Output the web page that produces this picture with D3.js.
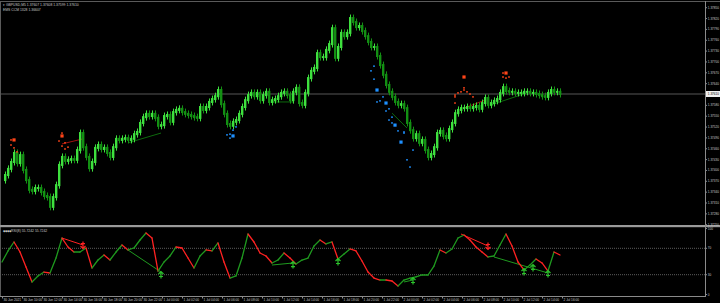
<!DOCTYPE html>
<html>
<head>
<meta charset="utf-8">
<script src="https://cdn.jsdelivr.net/npm/d3@7"></script>
<style>
  body { margin: 0; background: #000; overflow: hidden; }
  svg { display: block; font-family: "Liberation Sans", Arial, sans-serif; }
</style>
</head>
<body>
<svg id="chart" width="720" height="303"></svg>
<script>
// close of every bar
const closes = [
  1.37372,1.37386,1.37403,1.37422,1.37447,1.37419,1.37441,1.37400,1.37372,1.37345,
  1.37342,1.37350,1.37350,1.37339,1.37328,1.37325,1.37298,1.37325,1.37358,1.37414,
  1.37436,1.37425,1.37428,1.37430,1.37428,1.37455,1.37502,1.37463,1.37436,1.37405,
  1.37422,1.37461,1.37469,1.37458,1.37461,1.37447,1.37436,1.37463,1.37486,1.37483,
  1.37486,1.37488,1.37483,1.37486,1.37499,1.37505,1.37530,1.37546,1.37555,1.37549,
  1.37555,1.37544,1.37522,1.37524,1.37549,1.37552,1.37533,1.37560,1.37566,1.37569,
  1.37560,1.37555,1.37552,1.37549,1.37546,1.37544,1.37574,1.37566,1.37574,1.37588,
  1.37596,1.37604,1.37621,1.37582,1.37555,1.37527,1.37522,1.37533,1.37538,1.37555,
  1.37574,1.37593,1.37607,1.37613,1.37604,1.37613,1.37593,1.37607,1.37616,1.37588,
  1.37593,1.37596,1.37604,1.37613,1.37616,1.37607,1.37593,1.37616,1.37627,1.37585,
  1.37580,1.37613,1.37654,1.37674,1.37682,1.37723,1.37712,1.37712,1.37732,1.37748,
  1.37792,1.37710,1.37740,1.37779,1.37770,1.37779,1.37820,1.37809,1.37795,1.37798,
  1.37784,1.37770,1.37754,1.37740,1.37740,1.37715,1.37690,1.37663,1.37635,1.37616,
  1.37602,1.37588,1.37580,1.37582,1.37571,1.37530,1.37510,1.37488,1.37499,1.37475,
  1.37483,1.37455,1.37436,1.37444,1.37463,1.37502,1.37508,1.37494,1.37488,1.37513,
  1.37530,1.37557,1.37566,1.37571,1.37571,1.37574,1.37571,1.37574,1.37577,1.37569,
  1.37585,1.37599,1.37580,1.37585,1.37591,1.37596,1.37613,1.37629,1.37618,1.37616,
  1.37616,1.37613,1.37613,1.37613,1.37616,1.37616,1.37613,1.37613,1.37610,1.37607,
  1.37604,1.37602,1.37613,1.37621,1.37616,1.37616,1.37610
];

// signal dots on the price chart: [bar, price, size]
const redDots = [
  [4,1.37483,2],[3,1.37483,1],[3,1.37469,1],[4,1.37461,1],[5,1.37450,1],
  [20,1.37502,1],[20,1.37494,2],[19,1.37480,1],[21,1.37475,1],[22,1.37463,1],[21,1.37458,1],[20,1.37466,1],
  [154,1.37657,2],[154,1.37627,1],[154,1.37621,1],[153,1.37616,1],[152,1.37613,1],[151,1.37607,1],
  [151,1.37602,1],[155,1.37616,1],[156,1.37610,1],[157,1.37602,1],[151,1.37585,1],
  [167,1.37668,1],[168,1.37668,2],[167,1.37657,1],[168,1.37654,1],[169,1.37657,1]
];
const blueDots = [
  [75,1.37497,1],[76,1.37499,1],[77,1.37494,2],[76,1.37488,1],[77,1.37510,1],[78,1.37519,1],
  [124,1.37687,1],[123,1.37674,1],[124,1.37651,1],[125,1.37621,2],[125,1.37588,1],[126,1.37591,1],
  [127,1.37602,1],[128,1.37585,2],[128,1.37563,1],[129,1.37569,1],[130,1.37546,1],[129,1.37538,1],
  [130,1.37530,1],[131,1.37524,2],[132,1.37508,1],[134,1.37505,1],[134,1.37502,1],[133,1.37477,2],
  [137,1.37455,1],[135,1.37428,1],[136,1.37408,1]
];
// divergence lines on price: [type, bar1, price1, bar2, price2]
const priceLines = [
  ["dn",20,1.37472,27,1.37486],
  ["up",42,1.37475,53,1.37502],
  ["up",90,1.37588,97,1.37588],
  ["up",130,1.37557,135,1.37516],
  ["dn",154,1.37571,161,1.37593],
  ["up",163,1.37580,175,1.37613]
];

// oscillator, one value every 2nd bar
const oscVals = [
  48.5,65.2,78.8,63.6,40.9,18.2,27.3,33.3,31.8,54.5,
  84.8,71.2,63.6,63.6,69.7,39.4,51.5,59.1,51.5,63.6,
  74.2,66.7,69.7,81.8,92.4,84.8,34.8,48.5,57.6,71.2,
  69.7,54.5,39.4,57.6,66.7,65.2,77.3,48.5,24.2,27.3,
  54.5,90.9,78.8,62.1,57.6,47.0,51.5,62.1,54.5,45.5,
  51.5,54.5,72.7,81.8,75.8,78.8,53.0,60.6,68.2,65.2,
  50.0,33.3,24.2,21.2,21.2,19.7,12.1,21.2,24.2,25.8,
  28.8,28.8,42.4,66.7,62.1,68.2,84.8,89.4,81.8,71.2,
  63.6,56.1,57.6,74.2,90.9,72.7,48.5,36.4,43.9,53.0,
  47.0,34.8,63.6,59.1
];
const oscUpArrows = [[53,28.8],[97,43.9],[112,48.5],[137,19.7],[174,33.3],[177,39.4],[182,30.3]];
const oscDnArrows = [[27,74.2],[162,72.7]];
const oscLines = [
  ["dn",20,84.8,27,74.2],
  ["up",42,66.7,53,33.3],
  ["up",90,43.9,97,47.0],
  ["up",134,18.2,137,21.2],
  ["dn",153,90.9,162,72.7],
  ["up",164,56.1,182,31.8]
];
const oscLevels = [70, 30];
const oscTicks = [100, 70, 30, 0];

const priceTicks = [1.37850,1.37820,1.37790,1.37760,1.37730,1.37700,1.37670,1.37640,1.37610,1.37580,
  1.37550,1.37520,1.37490,1.37460,1.37430,1.37400,1.37370,1.37340,1.37310,1.37280,1.37250];
const timeLabels = ["30 Jun 2021","30 Jun 10:00","30 Jun 12:00","30 Jun 14:00","30 Jun 16:00","30 Jun 18:00",
  "30 Jun 20:00","30 Jun 22:00","1 Jul 00:00","1 Jul 02:00","1 Jul 04:00","1 Jul 06:00","1 Jul 08:00",
  "1 Jul 10:00","1 Jul 12:00","1 Jul 14:00","1 Jul 16:00","1 Jul 18:00","1 Jul 20:00","1 Jul 22:00",
  "2 Jul 00:00","2 Jul 02:00","2 Jul 04:00","2 Jul 06:00","2 Jul 08:00","2 Jul 10:00","2 Jul 12:00",
  "2 Jul 14:00","2 Jul 16:00"];

const UP = "#3ee03e", DOWN = "#139013", RED = "#ff2222", GRID = "#8a8a8a", TXT = "#c8c8c8";

const svg = d3.select("#chart");
svg.append("rect").attr("width", 720).attr("height", 303).attr("fill", "#000");

const x = d3.scaleLinear().domain([0, closes.length - 1]).range([2, 560]);
const y = d3.scaleLinear().domain([1.37250, 1.37850]).range([224.2, 7.2]);
const yO = d3.scaleLinear().domain([0, 100]).range([294, 228]);
const xT = d3.scaleLinear().domain([0, timeLabels.length - 1]).range([2, 562]);

const defs = svg.append("defs");
defs.append("clipPath").attr("id", "clipMain").append("rect").attr("x", 1).attr("y", 3).attr("width", 704).attr("height", 222);
defs.append("clipPath").attr("id", "clipOsc").append("rect").attr("x", 1).attr("y", 228).attr("width", 704).attr("height", 67);

// frame
svg.append("line").attr("x1", 0).attr("x2", 720).attr("y1", 1.5).attr("y2", 1.5).attr("stroke", "#5a5a5a");
svg.append("line").attr("x1", 0.5).attr("x2", 0.5).attr("y1", 1).attr("y2", 297).attr("stroke", "#5a5a5a");
svg.append("rect").attr("x", 0).attr("y", 225).attr("width", 720).attr("height", 2.2).attr("fill", "#9a9a9a");

const main = svg.append("g").attr("clip-path", "url(#clipMain)");

// current price line
const last = closes[closes.length - 1];
main.append("line").attr("x1", 0).attr("x2", 705).attr("y1", y(last)).attr("y2", y(last))
  .attr("stroke", "#3a3a3a").attr("stroke-width", 1.5);

// divergence lines
main.selectAll(".pline").data(priceLines).enter().append("line")
  .attr("x1", d => x(d[1])).attr("y1", d => y(d[2]))
  .attr("x2", d => x(d[3])).attr("y2", d => y(d[4]))
  .attr("stroke", d => d[0] === "up" ? "#0d6a0d" : "#a01010").attr("stroke-width", 1);

// bars
const bars = closes.slice(1).map((c, k) => ({ i: k + 1, o: closes[k], c: c }));
main.selectAll(".wick").data(bars).enter().append("line")
  .attr("x1", d => x(d.i) + 0.5).attr("x2", d => x(d.i) + 0.5)
  .attr("y1", d => y(Math.max(d.o, d.c)) - 3.5)
  .attr("y2", d => y(Math.min(d.o, d.c)) + 3.5)
  .attr("stroke", d => d.c >= d.o ? UP : DOWN).attr("stroke-width", 1);
main.selectAll(".body").data(bars).enter().append("rect")
  .attr("x", d => x(d.i) - 1).attr("width", 2.4)
  .attr("y", d => y(Math.max(d.o, d.c)) - 1)
  .attr("height", d => Math.max(2, Math.abs(y(d.o) - y(d.c)) + 2))
  .attr("fill", d => d.c >= d.o ? UP : DOWN);

// dots
main.selectAll(".rdot").data(redDots).enter().append("rect")
  .attr("x", d => x(d[0]) - d[2] * 0.8).attr("y", d => y(d[1]) - d[2] * 0.8)
  .attr("width", d => d[2] * 1.6).attr("height", d => d[2] * 1.6).attr("fill", "#ff4418");
main.selectAll(".bdot").data(blueDots).enter().append("rect")
  .attr("x", d => x(d[0]) - d[2] * 0.8).attr("y", d => y(d[1]) - d[2] * 0.8)
  .attr("width", d => d[2] * 1.6).attr("height", d => d[2] * 1.6).attr("fill", "#1e90ff");

// price axis
svg.append("line").attr("x1", 705.5).attr("x2", 705.5).attr("y1", 1).attr("y2", 297).attr("stroke", GRID);
const pAxis = svg.append("g").attr("transform", "translate(705.5,0)")
  .call(d3.axisRight(y).tickValues(priceTicks).tickSize(1.5).tickPadding(0.8).tickFormat(d3.format(".5f")));
pAxis.select(".domain").remove();
pAxis.selectAll("line").attr("stroke", GRID);
pAxis.selectAll("text").attr("fill", TXT).attr("font-size", 3.1);

// current price label
svg.append("rect").attr("x", 706).attr("y", y(last) - 3).attr("width", 14).attr("height", 6).attr("fill", "#f0f0f0");
svg.append("text").attr("x", 707.8).attr("y", y(last)).attr("dy", "0.35em").attr("font-size", 3.1)
  .attr("fill", "#000").text(d3.format(".5f")(last));

// header texts
svg.append("text").attr("x", 3).attr("y", 6).attr("font-size", 3.4).attr("fill", TXT)
  .text("▾ GBPUSD,M5  1.37607 1.37608 1.37599 1.37610");
svg.append("text").attr("x", 3).attr("y", 10.5).attr("font-size", 3.4).attr("fill", TXT)
  .text("EMS CCM 1328 1.36607");

// oscillator panel
const osc = svg.append("g").attr("clip-path", "url(#clipOsc)");
osc.selectAll(".lvl").data(oscLevels).enter().append("line")
  .attr("x1", 0).attr("x2", 705).attr("y1", d => yO(d) + 0.5).attr("y2", d => yO(d) + 0.5)
  .attr("stroke", "#5c5c5c").attr("stroke-dasharray", "1,1");

osc.selectAll(".oline").data(oscLines).enter().append("line")
  .attr("x1", d => x(d[1])).attr("y1", d => yO(d[2]))
  .attr("x2", d => x(d[3])).attr("y2", d => yO(d[4]))
  .attr("stroke", d => d[0] === "up" ? "#1f9a1f" : RED).attr("stroke-width", 1);

const segs = oscVals.slice(1).map((v, k) => ({ i0: k * 2, v0: oscVals[k], i1: k * 2 + 2, v1: v }));
osc.selectAll(".seg").data(segs).enter().append("line")
  .attr("x1", d => x(d.i0)).attr("y1", d => yO(d.v0))
  .attr("x2", d => x(d.i1)).attr("y2", d => yO(d.v1))
  .attr("stroke", d => d.v1 >= d.v0 ? "#1f9a1f" : RED)
  .attr("stroke-width", 1.3).attr("stroke-linecap", "round");

// arrows
const upArrow = "M0,-3.5L0,3.5M-2.5,-1L0,-3.5L2.5,-1M-2,1.5L2,1.5";
osc.selectAll(".ua").data(oscUpArrows).enter().append("path")
  .attr("transform", d => "translate(" + x(d[0]) + "," + yO(d[1]) + ")")
  .attr("d", upArrow).attr("fill", "none").attr("stroke", "#2bc02b").attr("stroke-width", 1.2);
osc.selectAll(".da").data(oscDnArrows).enter().append("path")
  .attr("transform", d => "translate(" + x(d[0]) + "," + yO(d[1]) + ") scale(1,-1)")
  .attr("d", upArrow).attr("fill", "none").attr("stroke", RED).attr("stroke-width", 1.2);

svg.append("text").attr("x", 3).attr("y", 231.5).attr("font-size", 3.4).attr("fill", TXT)
  .text("◆◆◆◆RSI(8) 55.7242 55.7242");

const oAxis = svg.append("g").attr("transform", "translate(705.5,0)")
  .call(d3.axisRight(yO).tickValues(oscTicks).tickSize(1.5).tickPadding(0.8));
oAxis.select(".domain").remove();
oAxis.selectAll("line").attr("stroke", GRID);
oAxis.selectAll("text").attr("fill", TXT).attr("font-size", 3.1);

// bottom border and time axis
svg.append("line").attr("x1", 0).attr("x2", 706).attr("y1", 296.5).attr("y2", 296.5).attr("stroke", GRID);
const tAxis = svg.append("g").attr("transform", "translate(0,296.5)")
  .call(d3.axisBottom(xT).tickValues(d3.range(timeLabels.length)).tickSize(2).tickFormat(i => timeLabels[i]));
tAxis.select(".domain").remove();
tAxis.selectAll("line").attr("stroke", GRID);
tAxis.selectAll("text").attr("fill", TXT).attr("font-size", 3.2)
  .attr("text-anchor", "start").attr("x", 1).attr("y", 2).attr("dy", "0.8em");
</script>
</body>
</html>
